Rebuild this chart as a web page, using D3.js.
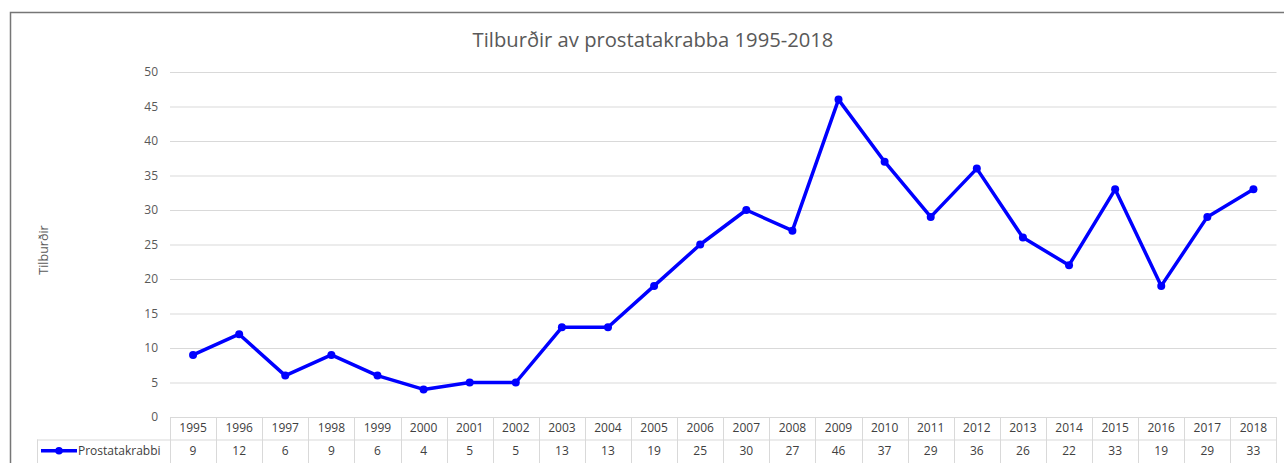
<!DOCTYPE html>
<html>
<head>
<meta charset="utf-8">
<script src="https://cdn.jsdelivr.net/npm/d3@7"></script>
<style>
  body { margin: 0; background: #fff; }
  svg { display: block; font-family: "Open Sans", "Liberation Sans", Arial, sans-serif; }
</style>
</head>
<body>
<div id="chart"></div>
<script>
// Tilburðir av prostatakrabba 1995-2018

var years = ["1995", "1996", "1997", "1998", "1999", "2000", "2001", "2002", "2003", "2004", "2005", "2006",
             "2007", "2008", "2009", "2010", "2011", "2012", "2013", "2014", "2015", "2016", "2017", "2018"];
var cases = [9, 12, 6, 9, 6, 4, 5, 5, 13, 13, 19, 25, 30, 27, 46, 37, 29, 36, 26, 22, 33, 19, 29, 33];
var yTicks = [0, 5, 10, 15, 20, 25, 30, 35, 40, 45, 50];
var seriesName = "Prostatakrabbi";
var chartTitle = "Tilburðir av prostatakrabba 1995-2018";
var yLabel = "Tilburðir";

var W = 1284, H = 463;
var plot = {left: 170, right: 1276.5, top: 72, bottom: 417};
var rowH = 22.5;

var svg = d3.select("#chart").append("svg").attr("width", W).attr("height", H);

// outer frame (right/bottom are cut off in the original)
svg.append("rect")
   .attr("x", 10.5).attr("y", 12.5)
   .attr("width", W + 20).attr("height", H + 20)
   .attr("fill", "none").attr("stroke", "#767676").attr("stroke-width", 1.5);

var x = d3.scaleBand().domain(years).range([plot.left, plot.right]);
var y = d3.scaleLinear().domain([0, 50]).range([plot.bottom, plot.top]);

// gridlines
svg.append("g").selectAll("line")
   .data(yTicks.filter(function(d) { return d > 0; }))
   .enter().append("line")
     .attr("x1", plot.left).attr("x2", plot.right)
     .attr("y1", function(d) { return y(d) + 0.5; })
     .attr("y2", function(d) { return y(d) + 0.5; })
     .attr("stroke", "#d9d9d9").attr("stroke-width", 1);

// y axis labels
svg.append("g").selectAll("text")
   .data(yTicks)
   .enter().append("text")
     .attr("x", 158)
     .attr("y", function(d) { return y(d); })
     .attr("dy", "0.35em")
     .attr("text-anchor", "end")
     .attr("font-size", 12)
     .attr("fill", "#595959")
     .text(function(d) { return d; });

// title
svg.append("text")
   .attr("x", 653).attr("y", 47)
   .attr("text-anchor", "middle")
   .attr("font-size", 20.2)
   .attr("fill", "#595959")
   .text(chartTitle);

// y axis title
svg.append("text")
   .attr("transform", "translate(48,250) rotate(-90)")
   .attr("text-anchor", "middle")
   .attr("font-size", 12.5)
   .attr("fill", "#595959")
   .text(yLabel);

// data table
var table = svg.append("g").attr("stroke", "#d9d9d9").attr("stroke-width", 1);
var t0 = plot.bottom, t1 = plot.bottom + rowH;
table.append("line").attr("x1", plot.left).attr("x2", plot.right).attr("y1", t0 + 0.5).attr("y2", t0 + 0.5);
table.append("line").attr("x1", 37).attr("x2", plot.right).attr("y1", t1 + 0.5).attr("y2", t1 + 0.5);
table.append("line").attr("x1", 37.5).attr("x2", 37.5).attr("y1", t1).attr("y2", H + 5);
table.selectAll("line.col")
   .data(years.concat(["end"]))
   .enter().append("line")
     .attr("class", "col")
     .attr("x1", function(d) { return d === "end" ? plot.right : Math.round(x(d)) + 0.5; })
     .attr("x2", function(d) { return d === "end" ? plot.right : Math.round(x(d)) + 0.5; })
     .attr("y1", t0).attr("y2", H + 5);

svg.append("g").selectAll("text")
   .data(years)
   .enter().append("text")
     .attr("x", function(d) { return x(d) + x.bandwidth() / 2; })
     .attr("y", t0 + rowH / 2)
     .attr("dy", "0.35em")
     .attr("text-anchor", "middle")
     .attr("font-size", 12)
     .attr("fill", "#404040")
     .text(function(d) { return d; });

svg.append("g").selectAll("text")
   .data(cases)
   .enter().append("text")
     .attr("x", function(d, i) { return x(years[i]) + x.bandwidth() / 2; })
     .attr("y", t1 + rowH / 2)
     .attr("dy", "0.35em")
     .attr("text-anchor", "middle")
     .attr("font-size", 12)
     .attr("fill", "#404040")
     .text(function(d) { return d; });

// legend key in table
var ky = t1 + rowH / 2;
svg.append("line").attr("x1", 41).attr("x2", 77).attr("y1", ky).attr("y2", ky)
   .attr("stroke", "#0000ff").attr("stroke-width", 3.5);
svg.append("circle").attr("cx", 59).attr("cy", ky).attr("r", 3.8).attr("fill", "#0000ff");
svg.append("text")
   .attr("x", 78).attr("y", ky).attr("dy", "0.35em")
   .attr("font-size", 12).attr("fill", "#404040")
   .text(seriesName);

// series line
var line = d3.line()
   .x(function(d, i) { return x(years[i]) + x.bandwidth() / 2; })
   .y(function(d) { return y(d); });

svg.append("path")
   .datum(cases)
   .attr("d", line)
   .attr("fill", "none")
   .attr("stroke", "#0000ff")
   .attr("stroke-width", 3.5)
   .attr("stroke-linejoin", "round");

svg.append("g").selectAll("circle")
   .data(cases)
   .enter().append("circle")
     .attr("cx", function(d, i) { return x(years[i]) + x.bandwidth() / 2; })
     .attr("cy", function(d) { return y(d); })
     .attr("r", 4)
     .attr("fill", "#0000ff");
</script>
</body>
</html>
